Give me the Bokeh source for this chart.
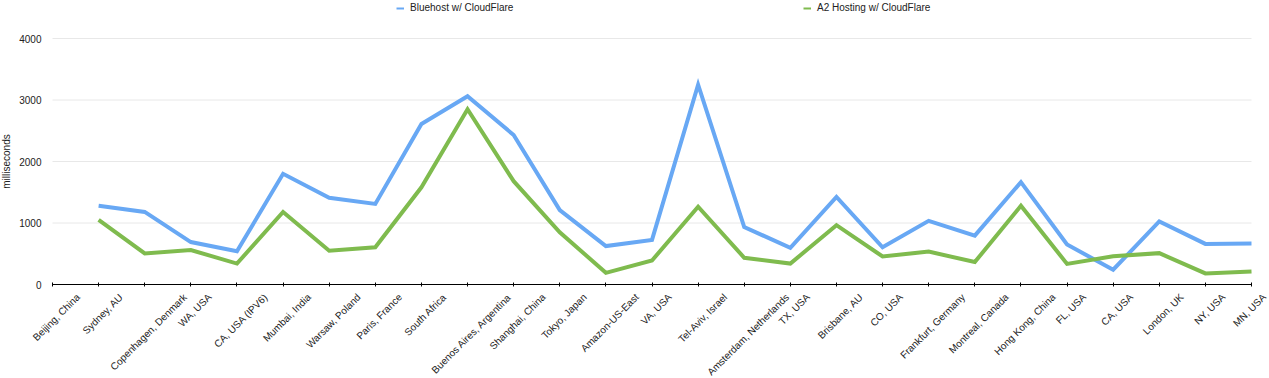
import math
from bokeh.plotting import figure
from bokeh.core.properties import value
from bokeh.models import (Range1d, FixedTicker, Legend, LegendItem, ColumnDataSource,
                          LabelSet)
from bokeh.embed import file_html
from bokeh.resources import INLINE

locations = [
    "Beijing, China", "Sydney, AU", "Copenhagen, Denmark", "WA, USA", "CA, USA (IPV6)",
    "Mumbai, India", "Warsaw, Poland", "Paris, France", "South Africa",
    "Buenos Aires, Argentina", "Shanghai, China", "Tokyo, Japan", "Amazon-US-East",
    "VA, USA", "Tel-Aviv, Israel", "Amsterdam, Netherlands", "TX, USA", "Brisbane, AU",
    "CO, USA", "Frankfurt, Germany", "Montreal, Canada", "Hong Kong, China", "FL, USA",
    "CA, USA", "London, UK", "NY, USA", "MN, USA",
]
nan = float("nan")
bluehost = [nan, 1280, 1180, 690, 540, 1800, 1410, 1310, 2610, 3060, 2430, 1210, 625,
            725, 3250, 935, 595, 1425, 605, 1035, 795, 1665, 650, 240, 1025, 660, 665]
a2hosting = [nan, 1050, 505, 560, 340, 1180, 550, 605, 1580, 2850, 1680, 850, 190,
             390, 1265, 435, 340, 965, 455, 535, 365, 1280, 335, 460, 510, 180, 210]
y_ticks = [0, 1000, 2000, 3000, 4000]

BLUE = "#68a8f4"
GREEN = "#7fbb4e"
FONT = "Liberation Sans"
FS = 10  # px

W, H = 1269, 378
# plot-area placement in the page (pixels)
LEFT, RIGHT, TOP, BOTTOM = 52, 1251, 38, 284

# Liberation Sans (Arial-metric) advance widths, per 1000 em
_W = {" ": 278, ",": 278, "(": 333, ")": 333, "-": 333, "/": 278,
      "A": 667, "B": 667, "C": 722, "D": 722, "E": 667, "F": 611, "G": 778, "H": 722,
      "I": 278, "J": 500, "K": 667, "L": 556, "M": 833, "N": 722, "O": 778, "P": 667,
      "Q": 778, "R": 722, "S": 667, "T": 611, "U": 722, "V": 667, "W": 944, "X": 667,
      "Y": 667, "Z": 611,
      "a": 556, "b": 556, "c": 500, "d": 556, "e": 556, "f": 278, "g": 556, "h": 556,
      "i": 222, "j": 222, "k": 500, "l": 222, "m": 833, "n": 556, "o": 556, "p": 556,
      "q": 556, "r": 333, "s": 500, "t": 278, "u": 556, "v": 500, "w": 722, "x": 500,
      "y": 500, "z": 500}


def text_width(s):
    return sum(_W.get(c, 556) for c in s) * FS / 1000.0


xs = list(range(len(locations)))
n_last = len(locations) - 1
y_max = y_ticks[-1]

# ranges chosen so the whole page is the frame, with the data area at LEFT..RIGHT / TOP..BOTTOM
ppx = (RIGHT - LEFT) / n_last
ppy = (BOTTOM - TOP) / y_max
x_range = Range1d(-LEFT / ppx, n_last + (W - RIGHT) / ppx)
y_range = Range1d(-(H - BOTTOM) / ppy, y_max + TOP / ppy)

p = figure(width=W, height=H, output_backend="svg", toolbar_location=None,
           x_range=x_range, y_range=y_range,
           min_border_left=0, min_border_right=0, min_border_top=0, min_border_bottom=0)
p.outline_line_color = None
p.background_fill_color = "white"
p.border_fill_color = "white"

# horizontal grid lines spanning the category extent
grid_src = ColumnDataSource(dict(y=y_ticks[1:], x0=[0] * 4, x1=[n_last] * 4))
p.segment(x0="x0", x1="x1", y0="y", y1="y", source=grid_src, line_color="#e8e8e8",
          line_width=1)
p.xgrid.grid_line_color = None
p.ygrid.grid_line_color = None

src = ColumnDataSource(dict(x=xs, b=bluehost, a=a2hosting))
r1 = p.line("x", "b", source=src, line_color=BLUE, line_width=4, line_join="miter")
r2 = p.line("x", "a", source=src, line_color=GREEN, line_width=4, line_join="miter")

# thin proxies for legend swatches
proxy_src = ColumnDataSource(dict(x=[nan], y=[nan]))
pb = p.line("x", "y", source=proxy_src, line_color=BLUE, line_width=2)
pa = p.line("x", "y", source=proxy_src, line_color=GREEN, line_width=2)

# x axis (labels drawn separately, centred under each tick)
xa = p.xaxis[0]
xa.fixed_location = 0
xa.bounds = (0, n_last)
xa.ticker = FixedTicker(ticks=xs)
xa.major_label_overrides = {i: "" for i in xs}
xa.major_label_text_font_size = "1px"
xa.axis_line_color = "black"
xa.major_tick_line_color = "black"
xa.major_tick_in = 2
xa.major_tick_out = 2
xa.minor_tick_line_color = None

c45 = math.cos(math.pi / 4)
max_dx = W - RIGHT - 1.15 * FS * c45 - 1   # keep the last label inside the page
dxs = []
for i, t in enumerate(locations):
    d = text_width(t) * c45 / 2
    room = max_dx + (n_last - i) * ppx
    dxs.append(min(d, room))
lab_src = ColumnDataSource(dict(x=xs, y=[0] * len(xs), text=locations, dx=dxs))
labels = LabelSet(x="x", y="y", text="text", source=lab_src, x_offset="dx",
                  y_offset=-7, angle=math.pi / 4, text_align="right",
                  text_baseline="top", text_font=value(FONT),
                  text_font_size=value(f"{FS}px"), text_color="#222222")
p.add_layout(labels)

# y axis
ya = p.yaxis[0]
ya.fixed_location = 0
ya.bounds = (0, y_max)
ya.ticker = FixedTicker(ticks=y_ticks)
ya.axis_line_color = None
ya.major_tick_line_color = None
ya.major_tick_in = 0
ya.major_tick_out = 0
ya.minor_tick_line_color = None
ya.minor_tick_in = 0
ya.minor_tick_out = 0
ya.major_label_text_font = FONT
ya.major_label_text_font_size = "10px"
ya.major_label_text_color = "#222222"
ya.major_label_standoff = 11
ya.axis_label = "milliseconds"
ya.axis_label_text_font = FONT
ya.axis_label_text_font_size = "10px"
ya.axis_label_text_font_style = "normal"
ya.axis_label_text_color = "#222222"
ya.axis_label_standoff = 4


def make_legend(label, rend, loc):
    lg = Legend(items=[LegendItem(label=label, renderers=[rend])], location=loc,
                orientation="horizontal", border_line_alpha=0, background_fill_alpha=0,
                padding=0, margin=0, glyph_width=8, glyph_height=10, label_height=10,
                label_standoff=6, label_text_font=FONT, label_text_font_size="10px",
                label_text_color="#222222")
    p.add_layout(lg, "center")


make_legend("Bluehost w/ CloudFlare", pb, (396, 365))
make_legend("A2 Hosting w/ CloudFlare", pa, (803, 365))

open("out.html", "w").write(file_html(p, INLINE))
